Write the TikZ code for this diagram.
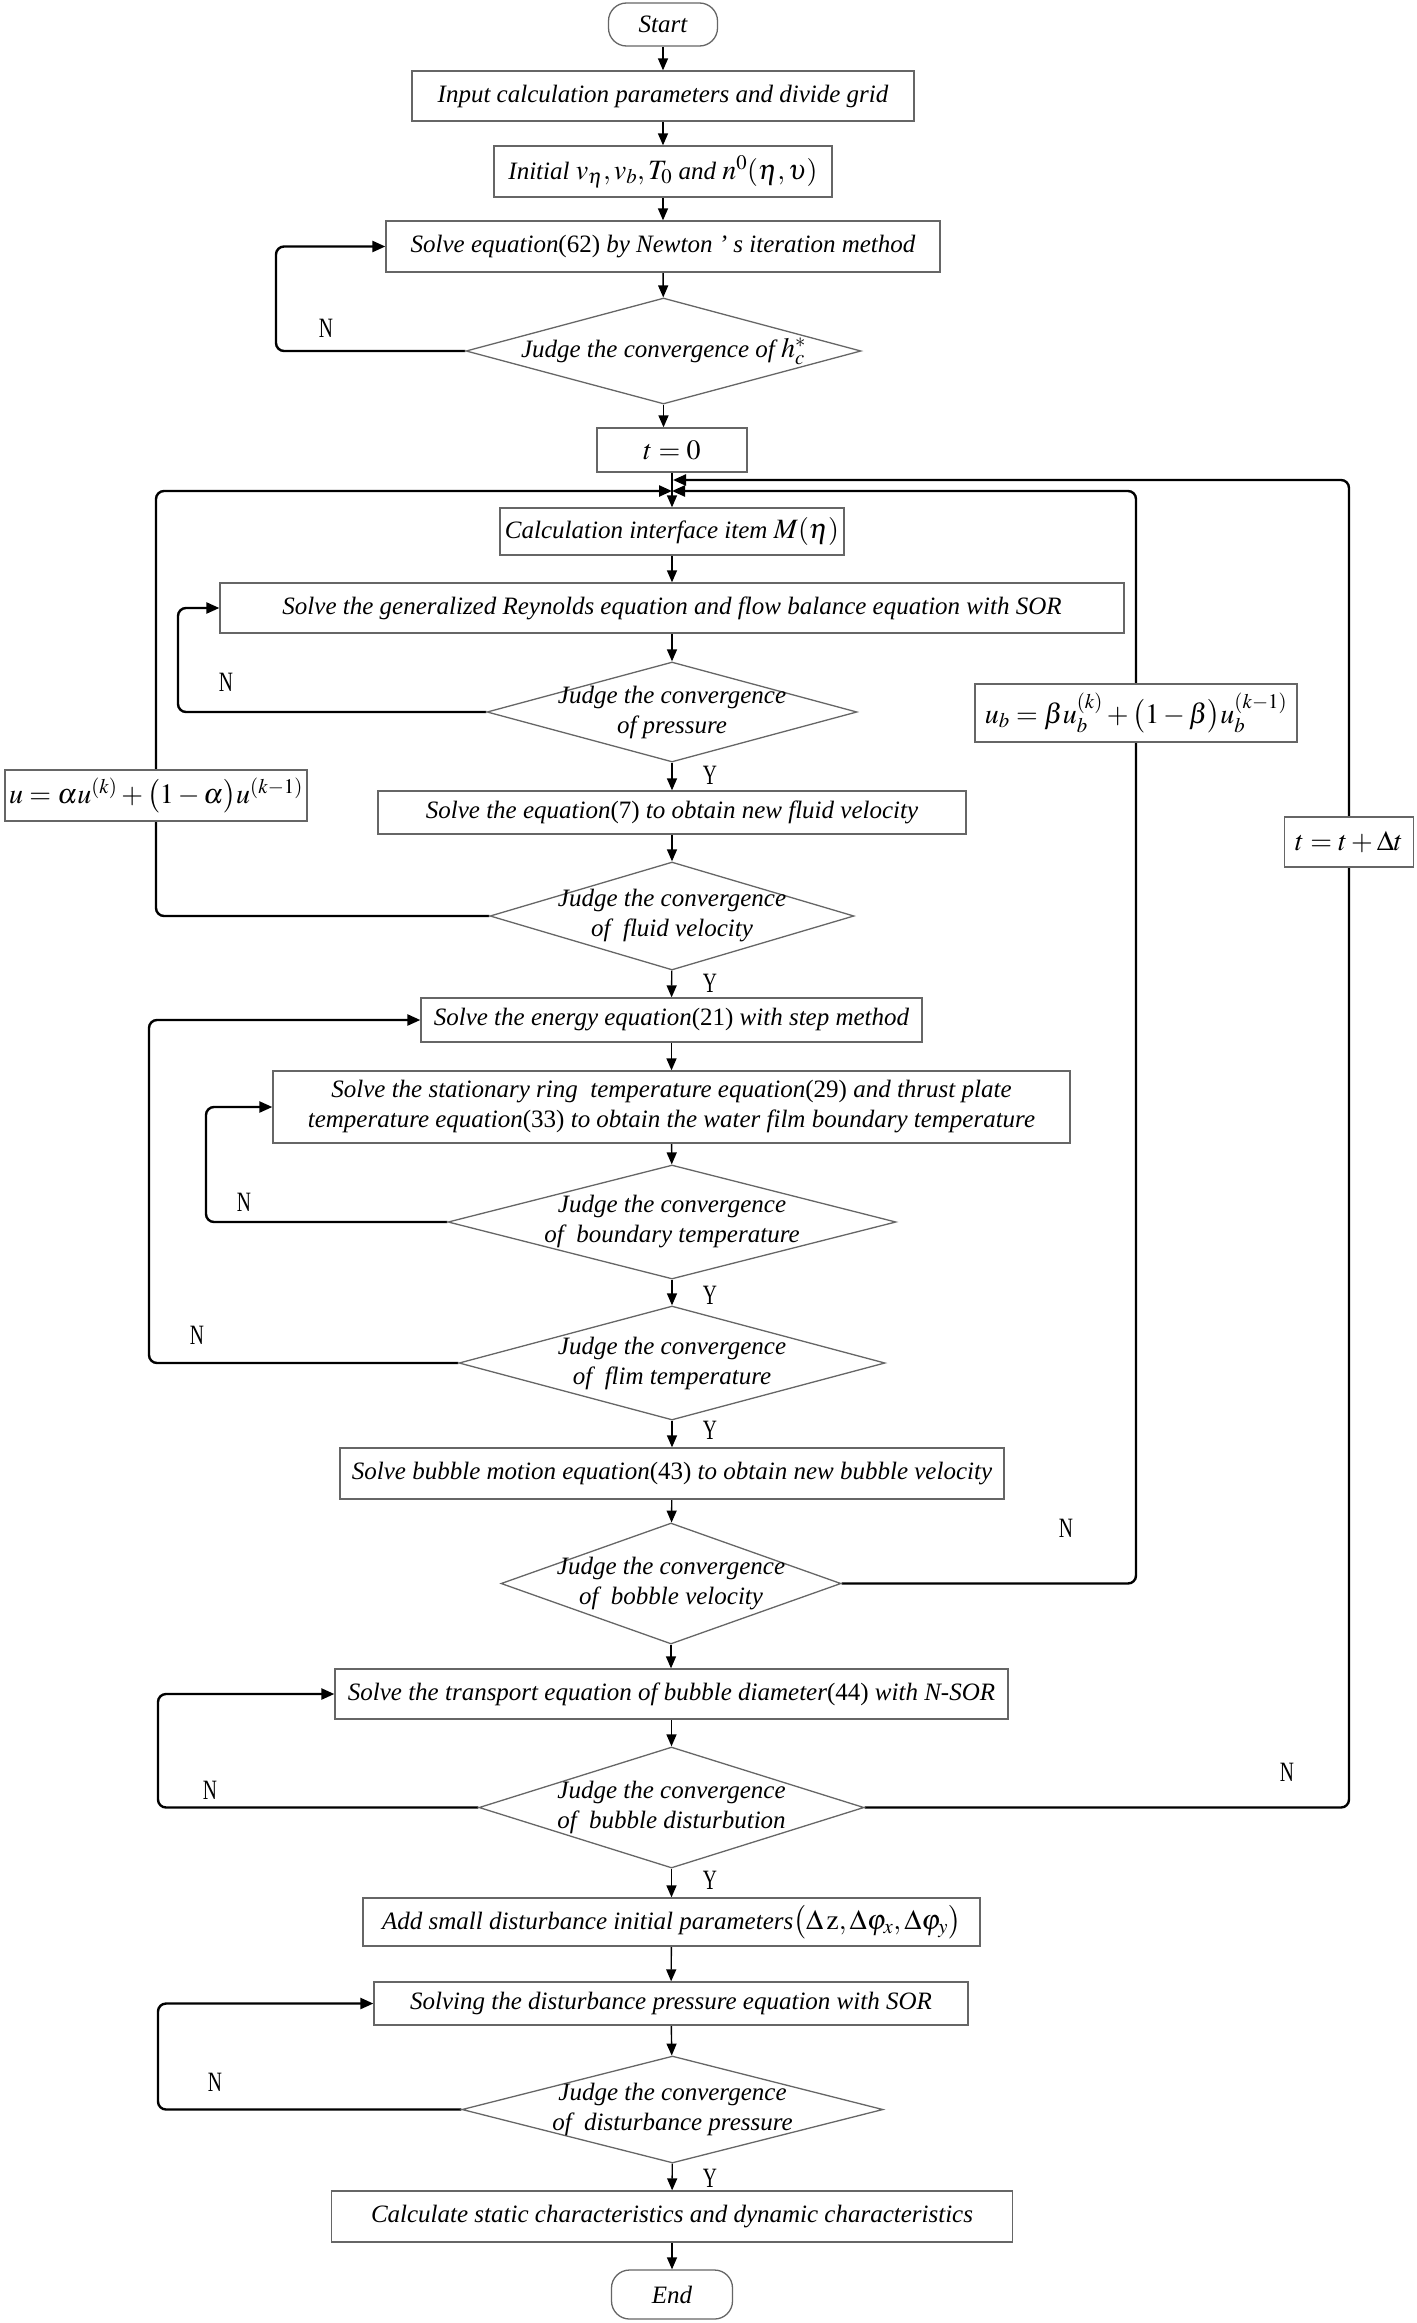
\documentclass[tikz,border=0pt]{standalone}
\usepackage{mathptmx}
\usepackage[no-math]{fontspec}
\setmainfont{Liberation Serif}
\newfontfamily\narrowfont[FakeStretch=0.7]{Liberation Serif}
\usetikzlibrary{shapes.geometric,arrows.meta,backgrounds}

\newcommand{\mbig}[1]{{\fontsize{28}{34}\selectfont$#1$}}

\tikzset{
 every node/.style={font=\itshape\fontsize{25}{30}\selectfont},
 box/.style={draw=black!60, line width=1.3pt, fill=white, inner sep=0pt, align=center},
 dia/.style={diamond, draw=black!60, line width=1.3pt, fill=white, inner sep=0pt},
 term/.style={box, rounded corners=18pt},
 dtext/.style={align=center, inner sep=0pt},
 arr/.style={line width=1.4pt, -{Triangle[length=12pt,width=10pt]}},
 fb/.style={line width=2.4pt, rounded corners=8pt, -{Triangle[length=13pt,width=11pt]}},
 yn/.style={font=\narrowfont\fontsize{28}{30}\selectfont, inner sep=0pt},
}

\begin{document}
\begin{tikzpicture}[x=1pt,y=-1pt]
\useasboundingbox (0,0) rectangle (1416,2323);

% ---- top section (axis x=663)
\node[term, minimum width=109pt, minimum height=43pt] (start) at (663,24.5) {Start};
\node[box, minimum width=502pt, minimum height=50pt] (input) at (663,96) {Input calculation parameters and divide grid};
\node[box, minimum width=338pt, minimum height=51pt] (init) at (663,171.5) {Initial \mbig{v_\eta, v_b, T_0}\ and \mbig{n^0(\eta,\upsilon)}};
\node[box, minimum width=554pt, minimum height=51pt] (newton) at (663,246.5) {Solve equation\textup{(62)} by Newton ’ s iteration method};
\node[dia, minimum width=395pt, minimum height=106pt] (d1) at (663.5,351) {};
\node[dtext] (d1t) at (d1) {Judge the convergence of \mbig{h_c^{*}}};

% ---- main section (axis x=672)
\node[box, minimum width=150pt, minimum height=44pt] (t0) at (672,450) {\mbig{t=0}};
\node[box, minimum width=344pt, minimum height=47pt] (calcM) at (672,531.5) {Calculation interface item \mbig{M(\eta)}};
\node[box, minimum width=904pt, minimum height=50pt] (reyn) at (672,608) {Solve the generalized Reynolds equation and flow balance equation with SOR};
\node[dia, minimum width=370pt, minimum height=100pt] (dp) at (672,712) {};
\node[dtext] (dpt) at (dp) {Judge the convergence\\of pressure};
\node[box, minimum width=322pt, minimum height=58pt] (ub) at (1136,713) {\mbig{u_b=\beta u_b^{(k)}+\bigl(1-\beta\bigr)u_b^{(k-1)}}};
\node[box, minimum width=302pt, minimum height=51pt] (ubox) at (156,795.5) {\mbig{u=\alpha u^{(k)}+\bigl(1-\alpha\bigr)u^{(k-1)}}};
\node[box, minimum width=588pt, minimum height=43pt] (fluid) at (672,812.5) {Solve the equation\textup{(7)} to obtain new fluid velocity};
\node[box, minimum width=129pt, minimum height=50pt] (tdt) at (1349,842) {\mbig{t=t+\Delta t}};
\node[dia, minimum width=364pt, minimum height=108pt] (dfv) at (672,916) {};
\node[dtext] (dfvt) at (dfv) {Judge the convergence\\of\ \ fluid velocity};
\node[box, minimum width=501pt, minimum height=44pt] (energy) at (671.5,1020) {Solve the energy equation\textup{(21)} with step method};
\node[box, minimum width=797pt, minimum height=72pt] (sr) at (671.5,1107) {Solve the stationary ring\ \ temperature equation\textup{(29)} and thrust plate\\temperature equation\textup{(33)} to obtain the water film boundary temperature};
\node[dia, minimum width=448pt, minimum height=114pt] (dbt) at (672,1222) {};
\node[dtext] (dbtt) at (dbt) {Judge the convergence\\of\ \ boundary temperature};
\node[dia, minimum width=426pt, minimum height=114pt] (dft) at (672,1363) {};
\node[dtext] (dftt) at (dft) {Judge the convergence\\of\ \ flim temperature};
\node[box, minimum width=664pt, minimum height=51pt] (bubble) at (672,1473.5) {Solve bubble motion equation\textup{(43)} to obtain new bubble velocity};
\node[dia, minimum width=340pt, minimum height=121pt] (dbv) at (671,1583.5) {};
\node[dtext] (dbvt) at (dbv) {Judge the convergence\\of\ \ bobble velocity};
\node[box, minimum width=673pt, minimum height=50pt] (transport) at (671.5,1694) {Solve the transport equation of bubble diameter\textup{(44)} with N-SOR};
\node[dia, minimum width=385pt, minimum height=121pt] (dbd) at (671.5,1807.5) {};
\node[dtext] (dbdt) at (dbd) {Judge the convergence\\of\ \ bubble disturbution};
\node[box, minimum width=617pt, minimum height=48pt] (add) at (671.5,1922) {Add small disturbance initial parameters\mbig{\bigl(\Delta\,\mathrm{z},\Delta\varphi_x,\Delta\varphi_y\bigr)}};
\node[box, minimum width=594pt, minimum height=43pt] (sdp) at (671,2003.5) {Solving the disturbance pressure equation with SOR};
\node[dia, minimum width=421pt, minimum height=107pt] (ddp) at (672.5,2109.5) {};
\node[dtext] (ddpt) at (ddp) {Judge the convergence\\of\ \ disturbance pressure};
\node[box, minimum width=681pt, minimum height=51pt] (calcs) at (672,2216.5) {Calculate static characteristics and dynamic characteristics};
\node[term, minimum width=121pt, minimum height=49pt] (end) at (672,2294.5) {End};

% ---- Y / N labels
\node[yn] (n1) at (326,328) {N};
\node[yn] (n2) at (226,682) {N};
\node[yn] (y2) at (710,775) {Y};
\node[yn] (y3) at (710,983) {Y};
\node[yn] (n4) at (244,1202) {N};
\node[yn] (y4) at (710,1295) {Y};
\node[yn] (n5) at (197,1335) {N};
\node[yn] (y5) at (710,1430) {Y};
\node[yn] (n6) at (1066,1528) {N};
\node[yn] (n7) at (210,1790) {N};
\node[yn] (n8) at (1287,1772) {N};
\node[yn] (y7) at (710,1880) {Y};
\node[yn] (n9) at (215,2082) {N};
\node[yn] (y9) at (710,2178) {Y};

% ---- loop columns and merge points
\coordinate (L1) at (276,0);
\coordinate (Lp) at (178,0);
\coordinate (Lfv) at (156,0);
\coordinate (Le) at (149,0);
\coordinate (Lb) at (206,0);
\coordinate (Lbv) at (1136,0);
\coordinate (Ld) at (158,0);
\coordinate (Lr) at (1349,0);
\coordinate (Ldp) at (158,0);
\coordinate (mA) at (672,491);
\coordinate (mB) at (673,480);

\begin{scope}[on background layer]
\fill[white] (0,0) rectangle (1416,2323);
% main flow
\draw[arr] (start) -- (input);
\draw[arr] (input) -- (init);
\draw[arr] (init) -- (newton);
\draw[arr] (newton) -- (d1);
\draw[arr] (d1.south) -- (d1.south |- t0.north);
\draw[arr] (t0) -- (calcM);
\draw[arr] (calcM) -- (reyn);
\draw[arr] (reyn) -- (dp);
\draw[arr] (dp) -- (fluid);
\draw[arr] (fluid) -- (dfv);
\draw[arr] (dfv) -- (energy);
\draw[arr] (energy) -- (sr);
\draw[arr] (sr) -- (dbt);
\draw[arr] (dbt) -- (dft);
\draw[arr] (dft.south) -- (dft.south |- bubble.north);
\draw[arr] (bubble) -- (dbv);
\draw[arr] (dbv.south) -- (dbv.south |- transport.north);
\draw[arr] (transport) -- (dbd);
\draw[arr] (dbd) -- (add);
\draw[arr] (add) -- (sdp);
\draw[arr] (sdp) -- (ddp);
\draw[arr] (ddp) -- (calcs);
\draw[arr] (calcs) -- (end);
% feedback loops
\draw[fb] (d1.west) -- (d1.west -| L1) |- (newton.west);
\draw[fb] (dp.west) -- (dp.west -| Lp) |- (reyn.west);
\draw[fb] (dfv.west) -- (dfv.west -| Lfv) |- (mA);
\draw[fb] (dft.west) -- (dft.west -| Le) |- (energy.west);
\draw[fb] (dbt.west) -- (dbt.west -| Lb) |- (sr.west);
\draw[fb] (dbv.east) -- (dbv.east -| Lbv) |- (mA);
\draw[fb] (dbd.west) -- (dbd.west -| Ld) |- (transport.west);
\draw[fb] (dbd.east) -- (dbd.east -| Lr) |- (mB);
\draw[fb] (ddp.west) -- (ddp.west -| Ldp) |- (sdp.west);
\end{scope}
\end{tikzpicture}
\end{document}
